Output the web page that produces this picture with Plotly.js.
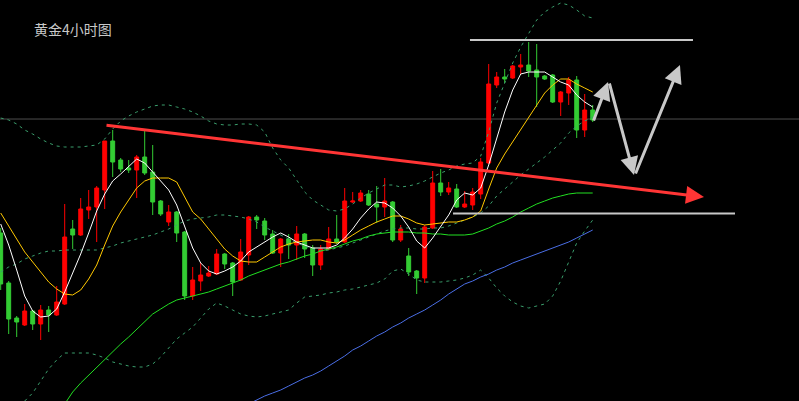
<!DOCTYPE html>
<html>
<head>
<meta charset="utf-8">
<script src="https://cdn.plot.ly/plotly-3.0.1.min.js"></script>
<style>html,body{margin:0;padding:0;background:#000;}#chart{width:799px;height:401px;}</style>
</head>
<body>
<div id="chart"></div>
<script>
// candle index (4-hour bars)
const bars = [0,1,2,3,4,5,6,7,8,9,10,11,12,13,14,15,16,17,18,19,20,21,22,23,24,25,26,27,28,29,30,31,32,33,34,35,36,37,38,39,40,41,42,43,44,45,46,47,48,49,50,51,52,53,54,55,56,57,58,59,60,61,62,63,64,65,66,67,68,69,70,71,72,73,74];

const openP = [2333.5,2308.5,2291,2287.5,2294.5,2288,2295,2292.5,2298,2335.5, 2332.5,2345,2346.5,2355,2379.5,2370,2366,2365,2371.5,2364, 2349.5,2339,2344,2334,2302,2309.5,2312,2313,2323,2318.5, 2310,2322.5,2341.5,2339.5,2333,2323.5,2330.5,2327.5,2333,2326, 2317.5,2325.5,2330.5,2329,2349,2349.5,2353,2348,2346.5,2349, 2330,2322,2314.5,2311,2336,2358.5,2354,2355.5,2346.5,2347.5, 2353,2368.5,2407.5,2411.5,2411,2416.5,2417.5,2415,2412,2412.5, 2399,2403.5,2410,2385,2395];
const highP = [2336,2309.5,2292,2298,2295,2297.5,2297,2307,2348,2340, 2351,2355,2357,2379.5,2385,2371,2370,2372.5,2384.5,2377.5, 2350,2347.5,2344.5,2334.5,2316.5,2318.5,2317,2325.5,2323.5,2319, 2330.5,2342,2342.5,2341,2335,2331,2333,2337,2333.5,2327.5, 2327.5,2336.5,2342.5,2356,2354,2355,2355,2357,2361,2349.5, 2337.5,2326,2315,2337.5,2364.5,2365.5,2359,2358,2354.5,2356, 2371,2418,2414,2415.5,2417.5,2423,2429,2428,2412.5,2413, 2404.5,2411.5,2412,2403,2397.5];
const lowP = [2305,2283,2281.5,2287,2285,2280,2284,2292,2297.5,2325.5, 2332,2340.5,2329,2345.5,2361.5,2364,2363.5,2351,2362.5,2342.5, 2342,2337,2329,2300,2300,2304.5,2311.5,2312.5,2315.5,2302, 2309.5,2317.5,2335.5,2330,2323,2316.5,2320.5,2320,2321,2312, 2315,2325,2328,2328.5,2348.5,2349,2347,2338.5,2341.5,2329, 2329,2312,2303,2308.5,2335.5,2352,2352.5,2346,2346,2345, 2350.5,2368,2406,2408.5,2410.5,2413,2411.5,2396.5,2410,2398.5, 2392,2397.5,2381,2381.5,2389];
const closeP = [2308,2290.5,2289,2294.5,2288,2295,2292.5,2299,2331.5,2332.5, 2345.5,2346.5,2356,2379.5,2369,2365.5,2365,2371.5,2363.5,2349, 2343,2344,2333.5,2302,2310,2312.5,2313.5,2323,2318,2309, 2324,2341.5,2340,2332.5,2323.5,2330.5,2327.5,2333,2325.5,2317.5, 2325.5,2330.5,2329,2349.5,2349.5,2353.5,2347.5,2346.5,2349.5,2330, 2335.5,2314,2311,2336.5,2358.5,2354,2356,2346.5,2348,2354, 2369,2408,2411.5,2410.5,2417,2417.5,2414.5,2411.5,2410.5,2399, 2404,2410,2385,2395,2390];

// moving averages
const maFast = [2338,2327.5,2315,2302,2294.5,2291.5,2292,2295.5,2304,2313.5, 2323,2333.5,2344.5,2353,2359.5,2363,2367,2370.5,2368.5,2364, 2360,2355,2347.5,2336.5,2326,2318.5,2314.5,2313,2314.5,2316.5, 2319.5,2324,2326.5,2329,2331.5,2333.5,2331.5,2329,2327.5,2326, 2326,2326,2327.5,2331,2335.5,2341,2345.5,2349,2348.5,2346, 2342,2336.5,2329.5,2326,2331,2337,2342.5,2350,2353.5,2352.5, 2356,2367.5,2381,2394,2405,2413,2414,2414,2414,2411.5, 2409,2407.5,2402.5,2399,2396.5];
const maMid = [2343.5,2337,2330,2324,2319,2314,2309,2305.5,2303,2302.5, 2305,2310.5,2317.5,2327.5,2337,2344,2350,2356,2359.5,2361, 2361,2361,2359,2351.5,2344,2340.5,2335.5,2330,2325.5,2322, 2319.5,2319,2319,2321.5,2324,2326.5,2328,2329,2329.5,2330, 2330,2329,2328.5,2330,2332.5,2335,2337,2339,2340.5,2342, 2342,2340.5,2338.5,2337.5,2338,2338.5,2339,2339,2340,2341.5, 2344.5,2355.5,2366,2373,2379,2385.5,2391,2397.5,2403.5,2407.5, 2410.5,2410.5,2408,2406,2404];
const maSlow = [null,null,null,null,null,null,null,null,2248,2254, 2258.5,2262.5,2266,2270,2274,2278,2281.5,2285.5,2289.5,2293, 2295.5,2298,2300,2301,2302,2303,2304,2305.5,2307,2308.5, 2310,2312,2313.5,2315,2316.5,2318,2319,2320.5,2322,2323, 2324.5,2325.5,2326.5,2328,2329.5,2330.5,2332,2333,2333.5,2334, 2334,2334,2333.5,2333.5,2333,2333,2332.5,2332.5,2332.5,2333, 2334.5,2336,2338,2339.5,2341.5,2344,2346,2348,2349.5,2351, 2352,2353,2353.5,2353.5,2353.5];
const maLong = [null,null,null,null,null,null,null,null,null,null, null,null,null,null,null,null,null,null,null,null, null,null,null,null,null,null,null,null,null,null, null,2248,2250,2252,2253.5,2255,2257,2259,2261,2262.5, 2264.5,2267,2269.5,2272,2275,2277,2279.5,2282,2284,2286.5, 2288.5,2291,2293,2295,2297.5,2300,2303,2305.5,2308,2309.5, 2311.5,2313,2315,2316.5,2318.5,2320,2321.5,2323,2324.5,2326, 2327.5,2329,2331,2333,2335];

// Bollinger bands
const bandUpper = [2391,2390,2388,2385,2383,2380.5,2378.5,2377,2376.5,2376.5, 2376.5,2377,2377.5,2380.5,2385.5,2389.5,2392,2394,2395.5,2397, 2397.5,2397.5,2396.5,2395.5,2394,2392,2389.5,2388,2387.5,2387.5, 2388,2388,2387.5,2384,2376,2370,2366,2360,2354,2350, 2347.5,2345,2344.5,2345.5,2348,2351,2353.5,2355.5,2357.5,2357.5, 2356.5,2357,2358,2359.5,2361.5,2363.5,2365,2367,2368,2368.5, 2372,2384,2398.5,2408.5,2418.5,2426.5,2433.5,2440,2444,2446.5, 2448.5,2447.5,2445,2442,2441];
const bandMiddle = [2314,2316.5,2318,2320.5,2322,2323.5,2324.5,2324.5,2325,2325, 2325,2325,2325,2326,2327,2328.5,2329.5,2330.5,2331.5,2332.5, 2334,2335.5,2337.5,2339.5,2340.5,2341,2341.5,2342.5,2342.5,2342, 2341.5,2340.5,2339,2336.5,2334.5,2332.5,2330.5,2328.5,2327,2325.5, 2324.5,2325,2326,2327,2328.5,2330,2331.5,2333,2334.5,2335.5, 2336,2336,2335.5,2335.5,2336,2336,2337,2338.5,2340,2341.5, 2343.5,2347,2352,2355.5,2359,2362.5,2365.5,2368.5,2371.5,2375, 2378.5,2383.5,2387,2389.5,2391.5];
const bandLower = [null,null,null,2249.5,2253.5,2259.5,2265.5,2270,2273.5,2273.5, 2273.5,2273.5,2272.5,2271,2269,2268,2267,2266.5,2266.5,2268, 2271.5,2276,2280.5,2283.5,2286.5,2291,2295.5,2298.5,2297,2295, 2293,2292,2291.5,2292,2293,2294,2295,2298.5,2301.5,2302, 2302.5,2303.5,2304,2305,2305.5,2306.5,2307.5,2308.5,2310.5,2314.5, 2315.5,2313,2310,2309,2309,2309,2309.5,2310,2311,2312.5, 2315,2311,2306,2302,2299,2297,2296,2297,2298,2302, 2309.5,2319,2328.5,2334.5,2340];

const titleText = '黄金4小时图';

function line(y, color, dash) {
  return {type: 'scatter', mode: 'lines', x: bars, y: y, hoverinfo: 'skip',
          line: {color: color, width: 1, dash: dash || 'solid'}, connectgaps: false};
}
const bandColor = 'rgb(58,158,108)';
const traces = [
  {type: 'candlestick', x: bars, open: openP, high: highP, low: lowP, close: closeP,
   increasing: {line: {color: '#ff0000', width: 1}, fillcolor: '#ff0000'},
   decreasing: {line: {color: '#33cc33', width: 1}, fillcolor: '#33cc33'},
   whiskerwidth: 0, hoverinfo: 'skip'},
  line(bandUpper, bandColor, '3px,4px'),
  line(bandMiddle, bandColor, '3px,4px'),
  line(bandLower, bandColor, '3px,4px'),
  line(maLong, '#4a6ee6'),
  line(maSlow, '#22e022'),
  line(maMid, '#ffc800'),
  line(maFast, '#ffffff')
];

const grey = '#c8c8c8';
const layout = {
  width: 799, height: 401,
  margin: {l: 0, r: 0, t: 0, b: 0, pad: 0},
  paper_bgcolor: '#000000', plot_bgcolor: '#000000',
  showlegend: false,
  xaxis: {range: [-0.0875, 99.7875], visible: false, showgrid: false, zeroline: false,
          rangeslider: {visible: false}, fixedrange: true},
  yaxis: {range: [2249.5, 2450], visible: false, showgrid: false, zeroline: false, fixedrange: true},
  shapes: [
    {type: 'line', xref: 'paper', yref: 'paper', x0: 0, x1: 1, y0: 0.7032, y1: 0.7032,
     line: {color: '#4d4d4d', width: 1}, layer: 'below'},
    {type: 'line', xref: 'paper', yref: 'paper', x0: 0.5882, x1: 0.8673, y0: 0.9002, y1: 0.9002,
     line: {color: grey, width: 2}},
    {type: 'line', xref: 'paper', yref: 'paper', x0: 0.567, x1: 0.9199, y0: 0.4676, y1: 0.4676,
     line: {color: grey, width: 2}}
  ],
  annotations: [
    {xref: 'paper', yref: 'paper', x: 0.04, y: 0.9277, xanchor: 'left', yanchor: 'middle',
     text: titleText, showarrow: false,
     font: {family: 'Noto Sans CJK SC, sans-serif', size: 14, color: '#c8c8c8'}},
    {xref: 'paper', yref: 'paper', x: 0.8811, y: 0.5087, text: '', showarrow: true,
     ax: -599, ay: -72, arrowcolor: '#ff3535', arrowwidth: 3, arrowhead: 2, arrowsize: 1.2},
    {xref: 'paper', yref: 'paper', x: 0.761, y: 0.7955, text: '', showarrow: true,
     ax: -15, ay: 40, arrowcolor: grey, arrowwidth: 3, arrowhead: 2, arrowsize: 1.2},
    {xref: 'paper', yref: 'paper', x: 0.7935, y: 0.5636, text: '', showarrow: true,
     ax: -25, ay: -93, arrowcolor: grey, arrowwidth: 3, arrowhead: 2, arrowsize: 1.2},
    {xref: 'paper', yref: 'paper', x: 0.851, y: 0.8379, text: '', showarrow: true,
     ax: -45, ay: 110, arrowcolor: grey, arrowwidth: 3, arrowhead: 2, arrowsize: 1.2}
  ]
};

Plotly.newPlot('chart', traces, layout, {staticPlot: true, displayModeBar: false});
</script>
</body>
</html>
